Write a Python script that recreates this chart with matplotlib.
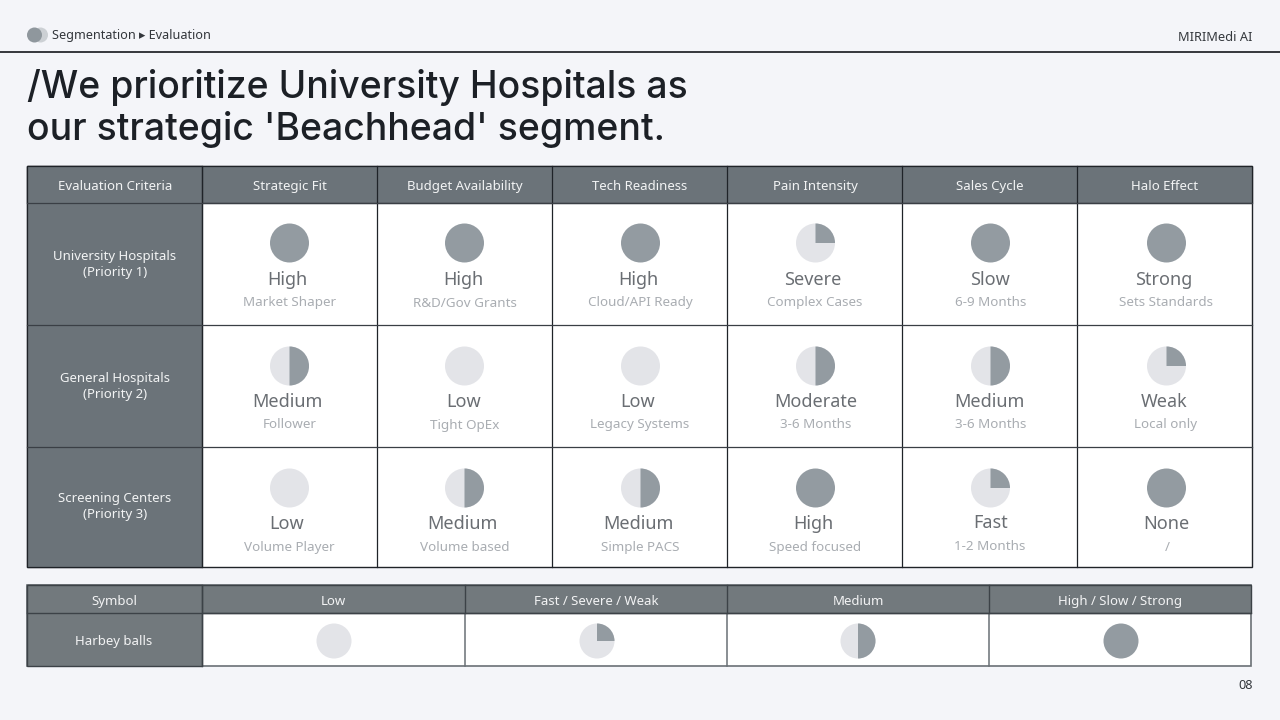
import matplotlib
matplotlib.use('Agg')
import matplotlib.pyplot as plt
from matplotlib.patches import Rectangle, Wedge, Circle

FONT = 'Noto Sans'
plt.rcParams['font.family'] = [FONT, 'DejaVu Sans']

criteria = ['Strategic Fit', 'Budget Availability', 'Tech Readiness', 'Pain Intensity', 'Sales Cycle', 'Halo Effect']
segments = ['University Hospitals\n(Priority 1)', 'General Hospitals\n(Priority 2)', 'Screening Centers\n(Priority 3)']
fill = [[1, 1, 1, 0.25, 1, 1],
        [0.5, 0, 0, 0.5, 0.5, 0.25],
        [0, 0.5, 0.5, 1, 0.25, 1]]
ratings = [['High', 'High', 'High', 'Severe', 'Slow', 'Strong'],
           ['Medium', 'Low', 'Low', 'Moderate', 'Medium', 'Weak'],
           ['Low', 'Medium', 'Medium', 'High', 'Fast', 'None']]
notes = [['Market Shaper', 'R&D/Gov Grants', 'Cloud/API Ready', 'Complex Cases', '6-9 Months', 'Sets Standards'],
         ['Follower', 'Tight OpEx', 'Legacy Systems', '3-6 Months', '3-6 Months', 'Local only'],
         ['Volume Player', 'Volume based', 'Simple PACS', 'Speed focused', '1-2 Months', '/']]
legend_labels = ['Low', 'Fast / Severe / Weak', 'Medium', 'High / Slow / Strong']
legend_fill = [0, 0.25, 0.5, 1]

# layout, in reference pixels
grid_x = [27, 202, 377, 552, 727, 902, 1077, 1252]
grid_y = [165.5, 203, 324.5, 446.5, 567]
ball_x = [289.5, 464.5, 640.5, 815.5, 990.5, 1166.5]
ball_y = [243, 366, 488]
rate_x = [[287, 463, 638, 813, 990, 1164], [287, 464, 638, 816, 989, 1164], [287, 462, 638, 813, 991, 1166]]
rate_y = [[285]*6, [407]*6, [529, 529, 529, 529, 528, 529]]
note_x = [[290, 465, 640, 815, 991, 1166], [290, 465, 640, 816, 991, 1166], [289, 465, 640, 815, 990, 1167]]
note_y = [[306, 307, 306, 306, 306, 306], [428, 429, 428, 428, 428, 428], [551, 551, 551, 551, 550, 551]]
leg_x = [27, 202, 465, 727, 989, 1251]
leg_y = [585, 613, 666]
leg_ball_x = [334, 597, 858, 1121]

BG, HEAD, LEGHEAD, LINE = '#f4f5f9', '#6b7379', '#72797d', '#1f2328'
FULL, EMPTY = '#939ba1', '#e3e4e8'
HEADTXT = '#f2f3f4'

fig = plt.figure(figsize=(12.8, 7.2), dpi=100, facecolor=BG)
ax = fig.add_axes([0, 0, 1, 1])
ax.set_xlim(0, 1280); ax.set_ylim(720, 0); ax.axis('off')

def rect(x0, y0, x1, y1, fc, ec=LINE, lw=1.0, z=1):
    ax.add_patch(Rectangle((x0, y0), x1-x0, y1-y0, fc=fc, ec=ec, lw=lw, zorder=z))

def ball(cx, cy, r, f):
    ax.add_patch(Circle((cx, cy), r, fc=FULL if f == 1 else EMPTY, ec='none', zorder=3))
    if 0 < f < 1:
        # y axis points down, so angles run clockwise on screen; start at 12 o'clock
        ax.add_patch(Wedge((cx, cy), r, -90, -90 + 360*f, fc=FULL, ec='none', zorder=4))

def txt(x, y, s, size, color, **kw):
    ax.text(x, y, s, fontsize=size, color=color, ha=kw.pop('ha', 'center'), va='baseline', zorder=6, **kw)

# top bar
ax.add_patch(Circle((40.5, 35), 7.5, fc='#ccd0d4', ec='none'))
ax.add_patch(Circle((34.5, 35), 7.5, fc='#8f979d', ec='none'))
txt(52, 39, 'Segmentation \u25b8 Evaluation', 9.1, '#33373c', ha='left')
txt(1252, 41, 'MIRIMedi AI', 9.2, '#33373c', ha='right')
ax.plot([0, 1280], [51.5, 51.5], color='#26292e', lw=1.3)
txt(27, 98, '/We prioritize University Hospitals as', 26.9, '#1c2026', ha='left', family=['Inter', 'DejaVu Sans'], weight='medium')
txt(27, 139.5, "our strategic 'Beachhead' segment.", 26.9, '#1c2026', ha='left', family=['Inter', 'DejaVu Sans'], weight='medium')

# main table
rect(grid_x[0], grid_y[0], grid_x[-1], grid_y[-1], 'white', z=1)
rect(grid_x[0], grid_y[0], grid_x[-1], grid_y[1], HEAD, lw=0.9, z=2)
rect(grid_x[0], grid_y[0], grid_x[1], grid_y[-1], HEAD, lw=0.9, z=2)
for x in grid_x[1:-1]:
    ax.plot([x, x], [grid_y[0], grid_y[-1]], color=LINE, lw=0.9, zorder=3)
for y in grid_y[1:-1]:
    ax.plot([grid_x[0], grid_x[-1]], [y, y], color='#3a3f45', lw=0.9, zorder=3)

txt((grid_x[0]+grid_x[1])/2 + 0.5, 190, 'Evaluation Criteria', 9.5, HEADTXT)
for c, name in enumerate(criteria):
    txt((grid_x[c+1]+grid_x[c+2])/2 + 0.5, 190, name, 9.5, HEADTXT)
for r, name in enumerate(segments):
    ax.text(115, [264.5, 386.5, 506.5][r], name, fontsize=9.5, color=HEADTXT, ha='center', va='center', linespacing=1.3, zorder=6)
    for c in range(6):
        ball(ball_x[c], ball_y[r], 19.5, fill[r][c])
        txt(rate_x[r][c], rate_y[r][c], ratings[r][c], 13, '#6a6e73')
        txt(note_x[r][c], note_y[r][c], notes[r][c], 9.7, '#a9adb2')

# legend table
rect(leg_x[0], leg_y[0], leg_x[-1], leg_y[-1], 'white', ec='#6a7075', lw=1.2, z=1)
rect(leg_x[0], leg_y[0], leg_x[-1], leg_y[1], LEGHEAD, ec='#3c4247', lw=1.0, z=2)
rect(leg_x[0], leg_y[0], leg_x[1], leg_y[-1], LEGHEAD, ec='#3c4247', lw=1.0, z=2)
for x in leg_x[2:-1]:
    ax.plot([x, x], [leg_y[1], leg_y[-1]], color='#6a7075', lw=1.1, zorder=3)
    ax.plot([x, x], [leg_y[0], leg_y[1]], color='#3c4247', lw=1.0, zorder=3)
ax.plot([leg_x[1], leg_x[1]], [leg_y[0], leg_y[-1]], color='#3c4247', lw=1.0, zorder=3)
ax.plot([leg_x[0], leg_x[-1]], [leg_y[1], leg_y[1]], color='#3c4247', lw=1.0, zorder=3)
txt(114, 605, 'Symbol', 9.5, HEADTXT)
txt(114, 645, 'Harbey balls', 9.5, HEADTXT)
for i, name in enumerate(legend_labels):
    txt((leg_x[i+1]+leg_x[i+2])/2, 605, name, 9.5, HEADTXT)
    ball(leg_ball_x[i], 641, 17.5, legend_fill[i])

txt(1253, 689, '08', 9.2, '#33373c', ha='right')
fig.savefig('out.png', dpi=100, facecolor=BG)
